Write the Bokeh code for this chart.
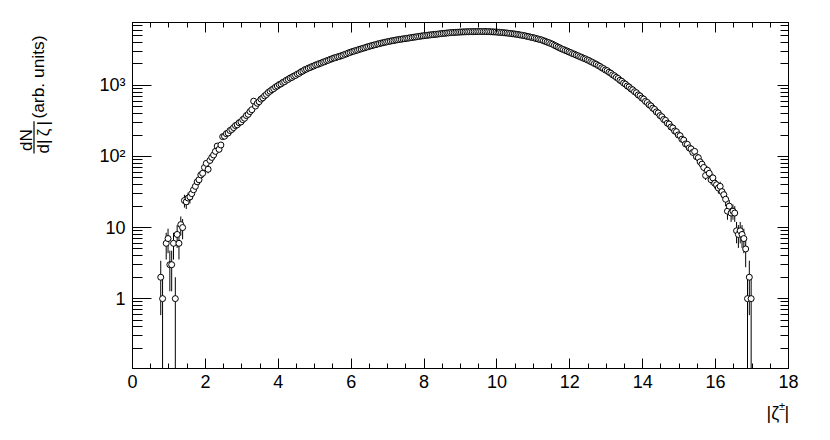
import numpy as np
from bokeh.plotting import figure
from bokeh.layouts import row, column
from bokeh.models import (LinearAxis, LogAxis, FixedTicker, CustomJSTickFormatter,
                          ColumnDataSource)
from bokeh.core.properties import value
from bokeh.embed import file_html
from bokeh.resources import INLINE

# ---- data: histogram of |zeta| (bin width 0.05), counts ----
bin_width = 0.05
first_bin_center = 0.775

left_tail = [2, 1, 0, 6, 7, 3, 3, 6, 1, 8, 6, 11, 10]            # 0.775 .. 1.375
rise_a = [24, 23, 26, 27, 30, 34, 38, 44, 47, 55, 58, 70,
          80, 66, 88, 97, 105, 118, 140, 126, 145, 190,
          193, 209, 214, 232, 240, 255, 272, 279, 298, 306]     # 1.425 .. 2.975
rise_b = [330, 345, 376, 392, 428, 455, 600, 512, 560, 590,
          640, 668, 712, 745, 795, 828, 870, 900, 948, 980,
          1025, 1050, 1102, 1130, 1185, 1215, 1270, 1298, 1352, 1384,
          1442, 1480, 1550, 1590, 1660, 1695, 1750, 1782, 1843, 1876]   # 3.025 .. 4.975
rise_c = [1935, 1965, 2025, 2058, 2120, 2156, 2220, 2258, 2325, 2365,
          2430, 2458, 2520, 2550, 2612, 2655, 2730, 2778, 2860, 2910,
          2985, 3026, 3098, 3140, 3215, 3258, 3335, 3380, 3460, 3508,
          3585, 3628, 3702, 3746, 3822, 3865, 3935, 3975, 4045, 4085]   # 5.025 .. 6.975
plateau_a = [4152, 4186, 4250, 4284, 4350, 4378, 4434, 4460, 4515, 4542,
             4600, 4626, 4685, 4712, 4772, 4800, 4862, 4890, 4952, 4980,
             5036, 5056, 5108, 5126, 5178, 5195, 5244, 5265, 5316, 5340,
             5392, 5410, 5460, 5476, 5524, 5548, 5552, 5590, 5596, 5630]  # 7.025 .. 8.975
plateau_b = [5636, 5664, 5660, 5690, 5688, 5710, 5698, 5720, 5708, 5730,
             5724, 5735, 5712, 5726, 5706, 5712, 5680, 5674, 5644, 5638,
             5602, 5584, 5540, 5522, 5478, 5458, 5404, 5378, 5325, 5298,
             5240, 5202, 5134, 5096, 5030, 4985, 4900, 4850, 4768, 4716]  # 9.025 .. 10.975
fall_a = [4650, 4560, 4502, 4415, 4360, 4258, 4175, 4066, 3990, 3882,
          3796, 3668, 3575, 3455, 3368, 3262, 3196, 3104, 3042, 2952,
          2888, 2802, 2748, 2666, 2612, 2530, 2482, 2405, 2362, 2290,
          2238, 2158, 2108, 2030, 1985, 1905, 1852, 1770, 1722, 1645]     # 11.025 .. 12.975
fall_b = [1612, 1532, 1484, 1408, 1365, 1296, 1252, 1180, 1142, 1078,
          1042, 982, 950, 895, 866, 815, 788, 735, 712, 664,
          642, 596, 575, 534, 515, 478, 460, 424, 410, 376,
          362, 332, 322, 294, 286, 260, 252, 228, 223, 201]              # 13.025 .. 14.975
right_tail = [196, 175, 170, 150, 148, 132, 128, 114, 118, 99,
              96, 84, 78, 70, 54, 64, 58, 47, 50, 42,
              40, 36, 38, 32, 29, 25, 17, 20, 16, 17,
              16, 9, 8, 9, 8, 7, 5, 1, 2, 1]                             # 15.025 .. 16.975

x_major_ticks = [0, 2, 4, 6, 8, 10, 12, 14, 16, 18]
x_minor_ticks = [v / 2 for v in range(0, 37)]
y_major_ticks = [1, 10, 100, 1000]
y_minor_ticks = ([m * 0.1 for m in range(2, 10)] + [m for m in range(2, 10)] +
                 [m * 10 for m in range(2, 10)] + [m * 100 for m in range(2, 10)] +
                 [m * 1000 for m in range(2, 8)])

y_title_main = "(arb. units)"
y_title_num = "dN"
y_title_den = "d|\u2009\u03b6\u2009|"
x_title_base = "|\u03b6"
x_title_sup = "\u00b1"
x_title_end = "|"

counts = np.array(left_tail + rise_a + rise_b + rise_c + plateau_a + plateau_b +
                  fall_a + fall_b + right_tail, dtype=float)
centers = first_bin_center + bin_width * np.arange(len(counts))
keep = counts > 0
cx = centers[keep]
cy = counts[keep]
err = np.sqrt(cy)
lo = np.maximum(cy - err, 1e-3)
hi = cy + err
src = ColumnDataSource(dict(x=cx, y=cy, lo=lo, hi=hi))

FONT = "Liberation Sans"
TOTAL_W, TOTAL_H = 814, 424
LEFT_W = 90
MAIN_H = 396
BOT_H = TOTAL_H - MAIN_H


def strip(w, h):
    f = figure(width=w, height=h, x_range=(0, w), y_range=(0, h),
               x_axis_location=None, y_axis_location=None,
               output_backend="svg", toolbar_location=None, title=None,
               min_border=0, min_border_left=0, min_border_right=0,
               min_border_top=0, min_border_bottom=0)
    f.grid.visible = False
    f.outline_line_color = None
    f.background_fill_color = "white"
    f.border_fill_color = "white"
    return f


# ---------------- main plot ----------------
p = figure(width=TOTAL_W - LEFT_W, height=MAIN_H, x_range=(0, 18), y_range=(0.104, 7670),
           y_axis_type="log", output_backend="svg", toolbar_location=None,
           min_border_left=42, min_border_right=26, min_border_top=22,
           min_border_bottom=28)
p.grid.visible = False
p.outline_line_color = "black"
p.outline_line_width = 1
p.background_fill_color = "white"
p.border_fill_color = "white"

p.segment(x0="x", y0="lo", x1="x", y1="hi", source=src, line_color="black", line_width=1)
p.scatter(x="x", y="y", source=src, size=6, marker="circle",
          fill_color="white", line_color="black", line_width=1)

xt = FixedTicker(ticks=x_major_ticks, minor_ticks=x_minor_ticks)
yt = FixedTicker(ticks=y_major_ticks, minor_ticks=y_minor_ticks)
blank = CustomJSTickFormatter(code="return '';")

xa = p.xaxis[0]
xa.ticker = xt
xa.major_tick_in = 10
xa.major_tick_out = 0
xa.minor_tick_in = 5
xa.minor_tick_out = 0
xa.major_label_standoff = 6
xa.major_label_text_font = FONT
xa.major_label_text_font_size = "18px"
xa.major_label_text_color = "black"
xa.axis_line_color = "black"

ya = p.yaxis[0]
ya.ticker = yt
ya.formatter = CustomJSTickFormatter(code="""
const e = Math.round(Math.log10(tick));
if (e == 0) return '1';
if (e == 1) return '10';
if (e == 2) return '10\u00b2';
if (e == 3) return '10\u00b3';
return '';
""")
ya.major_tick_in = 19
ya.major_tick_out = 0
ya.minor_tick_in = 10
ya.minor_tick_out = 0
ya.major_label_standoff = 7
ya.major_label_text_font = FONT
ya.major_label_text_font_size = "18px"
ya.major_label_text_color = "black"

top = LinearAxis(ticker=xt, formatter=blank, major_tick_in=10, major_tick_out=0,
                 minor_tick_in=5, minor_tick_out=0, major_label_text_font_size="1px",
                 major_label_standoff=0)
p.add_layout(top, "above")
right = LogAxis(ticker=yt, formatter=blank, major_tick_in=11, major_tick_out=0,
                minor_tick_in=8, minor_tick_out=0, major_label_text_font_size="1px",
                major_label_standoff=0)
p.add_layout(right, "right")

# ---------------- left strip: y title (rotated, anchored at text start) ----------------
ls = strip(LEFT_W, MAIN_H)
ls.text(x=[37.5], y=[MAIN_H - 110], text=[y_title_main], angle=np.pi / 2,
        text_align="left", text_baseline="middle", text_font=value(FONT),
        text_font_size=value("17.4px"), text_color="black")
ls.text(x=[26], y=[MAIN_H - 147], text=[y_title_num], angle=np.pi / 2,
        text_align="left", text_baseline="middle", text_font=value(FONT),
        text_font_size=value("17px"), text_color="black")
ls.text(x=[42.5], y=[MAIN_H - 150], text=[y_title_den], angle=np.pi / 2,
        text_align="left", text_baseline="middle", text_font=value(FONT),
        text_font_size=value("17px"), text_color="black")
ls.segment(x0=[33.5], y0=[MAIN_H - 113], x1=[33.5], y1=[MAIN_H - 150],
           line_color="black", line_width=1.2)

# ---------------- bottom strip (full width): x title ----------------
bs = strip(TOTAL_W, BOT_H)
bs.text(x=[766], y=[12], text=[x_title_base], text_align="left",
        text_baseline="middle", text_font=value(FONT),
        text_font_size=value("18px"), text_color="black")
bs.text(x=[778.5], y=[19], text=[x_title_sup], text_align="left",
        text_baseline="middle", text_font=value(FONT),
        text_font_size=value("11px"), text_color="black")
bs.text(x=[784], y=[12], text=[x_title_end], text_align="left",
        text_baseline="middle", text_font=value(FONT),
        text_font_size=value("18px"), text_color="black")

layout = column(row(ls, p, spacing=0), bs, spacing=0)
open("out.html", "w").write(file_html(layout, INLINE))
